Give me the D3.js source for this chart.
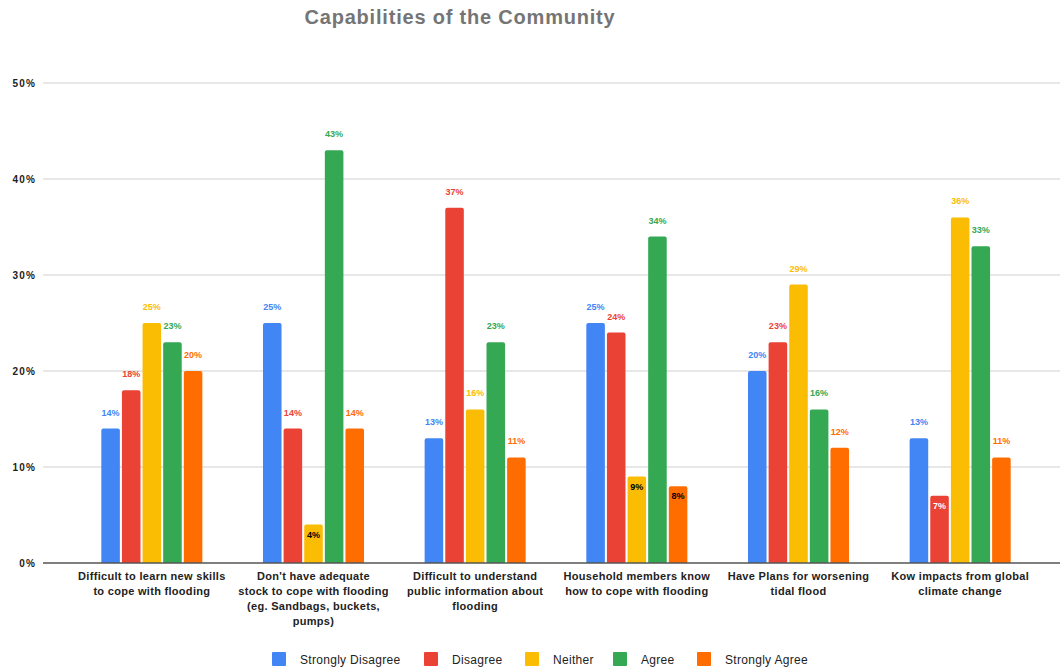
<!DOCTYPE html>
<html>
<head>
<meta charset="utf-8">
<script src="https://cdn.jsdelivr.net/npm/d3@7/dist/d3.min.js"></script>
<style>
  html, body { margin: 0; padding: 0; background: #fff; }
  svg { display: block; font-family: "Liberation Sans", Arial, sans-serif; }
</style>
</head>
<body>
<svg id="chart" width="1060" height="670"></svg>
<script>
// Survey answers per statement, percent of respondents (line breaks mark label wrapping)
const categories = [
  "Difficult to learn new skills\nto cope with flooding",
  "Don't have adequate\nstock to cope with flooding\n(eg. Sandbags, buckets,\npumps)",
  "Difficult to understand\npublic information about\nflooding",
  "Household members know\nhow to cope with flooding",
  "Have Plans for worsening\ntidal flood",
  "Kow impacts from global\nclimate change"
];
const seriesNames = ["Strongly Disagree", "Disagree", "Neither", "Agree", "Strongly Agree"];
const stronglyDisagree = [14, 25, 13, 25, 20, 13];
const disagree         = [18, 14, 37, 24, 23, 7];
const neither          = [25, 4, 16, 9, 29, 36];
const agree            = [23, 43, 23, 34, 16, 33];
const stronglyAgree    = [20, 14, 11, 8, 12, 11];
const yTicks = [0, 10, 20, 30, 40, 50];

const seriesValues = [stronglyDisagree, disagree, neither, agree, stronglyAgree];
const colors = ["#4285F4", "#EA4335", "#FBBC04", "#34A853", "#FF6D01"];
const insideText = ["#ffffff", "#ffffff", "#000000", "#ffffff", "#000000"];

const svg = d3.select("#chart");

const plot = { left: 43, right: 1060, top: 83, bottom: 563 };

const y = d3.scaleLinear().domain([0, 50]).range([plot.bottom, plot.top]);
const x0 = d3.scaleBand().domain(d3.range(categories.length))
  .range([71, 1041]).paddingInner(0.375).paddingOuter(0.1875);
const x1 = d3.scaleBand().domain(d3.range(seriesNames.length))
  .range([0, x0.bandwidth()]).paddingInner(0.1);

// Title
svg.append("text")
  .attr("x", 460).attr("y", 24)
  .attr("text-anchor", "middle")
  .attr("font-size", 20).attr("font-weight", "bold")
  .attr("letter-spacing", 0.8)
  .attr("fill", "#757575")
  .text("Capabilities of the Community");

// Gridlines
svg.append("g").selectAll("line")
  .data(yTicks.filter(t => t > 0))
  .join("line")
  .attr("x1", plot.left).attr("x2", plot.right)
  .attr("y1", d => y(d)).attr("y2", d => y(d))
  .attr("stroke", "#d0d0d0").attr("stroke-width", 1);

// Y axis labels
const yAxis = d3.axisLeft(y).tickValues(yTicks).tickSize(0).tickPadding(0)
  .tickFormat(d => d + "%");
svg.append("g")
  .attr("transform", `translate(36,0)`)
  .call(yAxis)
  .call(g => g.select(".domain").remove())
  .call(g => g.selectAll("text")
    .attr("font-size", 10).attr("font-weight", "bold")
    .attr("letter-spacing", 1.2)
    .attr("fill", "#222").attr("font-family", "Liberation Sans, Arial, sans-serif"));

// Bars
const groups = svg.append("g").selectAll("g")
  .data(categories.map((c, i) => i))
  .join("g")
  .attr("transform", i => `translate(${x0(i)},0)`);

const cells = groups.selectAll("g.cell")
  .data(i => seriesValues.map((vals, s) => ({ s, v: vals[i] })))
  .join("g").attr("class", "cell");

cells.append("path")
  .attr("fill", d => colors[d.s])
  .attr("d", d => {
    const x = x1(d.s), w = x1.bandwidth(), top = y(d.v), b = y(0), r = 2;
    return `M${x},${b}V${top + r}Q${x},${top} ${x + r},${top}H${x + w - r}Q${x + w},${top} ${x + w},${top + r}V${b}Z`;
  });

// Value labels: above the bar, or inside its top when the bar is short
cells.append("text")
  .attr("x", d => x1(d.s) + x1.bandwidth() / 2)
  .attr("y", d => d.v < 10 ? y(d.v) + 13 : y(d.v) - 13)
  .attr("text-anchor", "middle")
  .attr("font-size", 9).attr("font-weight", "bold")
  .attr("fill", d => d.v < 10 ? insideText[d.s] : colors[d.s])
  .text(d => d.v + "%");

// Baseline
svg.append("line")
  .attr("x1", plot.left).attr("x2", plot.right)
  .attr("y1", y(0)).attr("y2", y(0))
  .attr("stroke", "#555").attr("stroke-width", 1.3);

// Category labels, one tspan per line
const xAxis = d3.axisBottom(x0).tickSize(0).tickPadding(0).tickFormat(i => categories[i]);
const xg = svg.append("g").attr("transform", `translate(0,${y(0)})`).call(xAxis);
xg.select(".domain").remove();
xg.selectAll("text")
  .attr("dy", null)
  .attr("font-size", 11).attr("font-weight", "bold").attr("fill", "#222")
  .attr("letter-spacing", 0.3)
  .attr("font-family", "Liberation Sans, Arial, sans-serif")
  .each(function () {
    const t = d3.select(this);
    const lines = t.text().split("\n");
    t.text(null);
    lines.forEach((ln, k) => {
      t.append("tspan").attr("x", 0).attr("y", 17 + k * 15).text(ln);
    });
  });

// Legend
const legendX = [272, 424, 525, 613, 697];
const legend = svg.append("g").selectAll("g")
  .data(seriesNames)
  .join("g")
  .attr("transform", (d, i) => `translate(${legendX[i]},652)`);
legend.append("rect")
  .attr("width", 14).attr("height", 14).attr("rx", 1)
  .attr("fill", (d, i) => colors[i]);
legend.append("text")
  .attr("x", 28).attr("y", 11.5)
  .attr("font-size", 12).attr("letter-spacing", 0.3).attr("fill", "#222")
  .text(d => d);
</script>
</body>
</html>
